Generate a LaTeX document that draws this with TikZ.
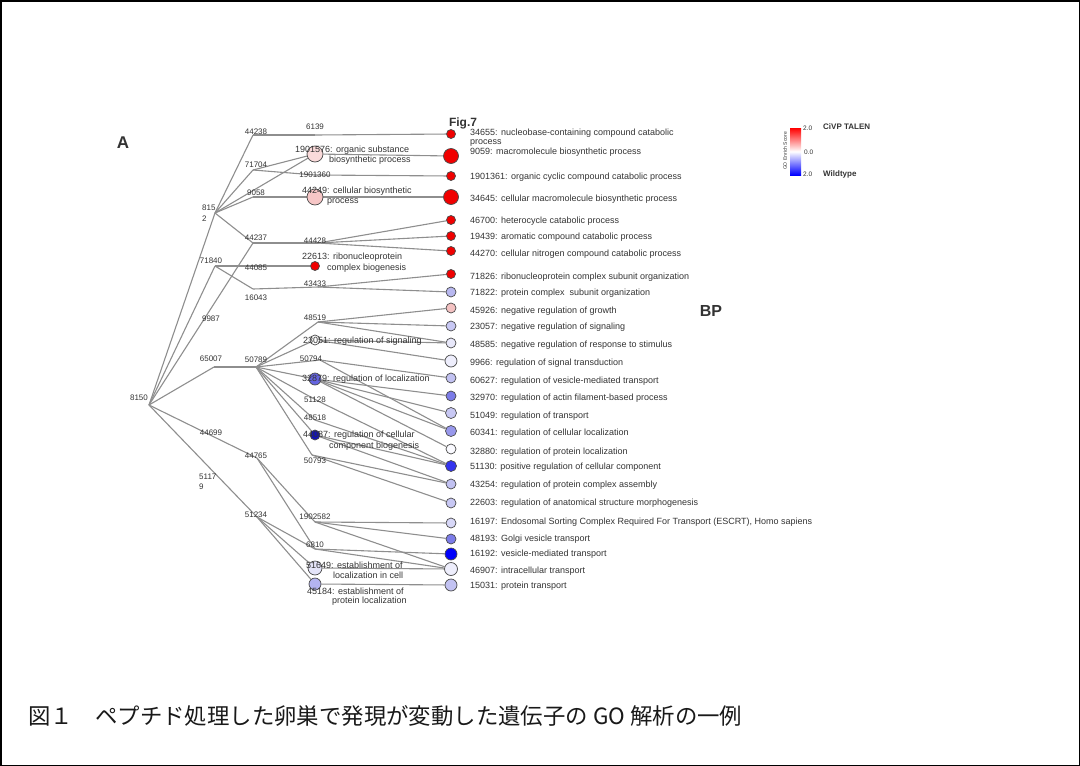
\documentclass[tikz,border=0pt]{standalone}
\usepackage{fontspec}
\usetikzlibrary{backgrounds}
\setmainfont{Liberation Sans}
\newfontfamily\cjk{Noto Sans CJK JP}
\definecolor{edgegray}{HTML}{8E8E8E}
\definecolor{txt}{HTML}{333333}
\definecolor{rim}{HTML}{4A4A4A}
\definecolor{cRed}{HTML}{F00000}
\definecolor{cPink1}{HTML}{FADADA}
\definecolor{cPink2}{HTML}{F6C6C6}
\definecolor{cPink3}{HTML}{F4C2C2}
\definecolor{cLav}{HTML}{B8B8F0}
\definecolor{cLav2}{HTML}{C8C8F4}
\definecolor{cLav3}{HTML}{C2C2F2}
\definecolor{cPale}{HTML}{E8E8FA}
\definecolor{cPale2}{HTML}{EEEEFC}
\definecolor{cWhite}{HTML}{FAFAFF}
\definecolor{cMid}{HTML}{7C7CE8}
\definecolor{cMid2}{HTML}{9898EC}
\definecolor{cMid3}{HTML}{6464E0}
\definecolor{cStrong}{HTML}{3434EE}
\definecolor{cBlue}{HTML}{0000FA}
\definecolor{cNavy}{HTML}{1414B4}
\definecolor{cPale3}{HTML}{D8D8F8}
\definecolor{cPale4}{HTML}{E4E4F8}
\definecolor{cLav4}{HTML}{B4B4F0}
\begin{document}
\begin{tikzpicture}[x=1pt,y=-1pt,
  edge/.style={draw=edgegray, line width=1.1pt},
  gonode/.style 2 args={circle, draw=rim, line width=0.7pt, fill=#1, minimum size=#2, inner sep=0pt},
  lbl/.style={font=\fontsize{9}{10}\selectfont, text=txt, inner sep=0pt, anchor=west},
  num/.style={font=\fontsize{8}{9}\selectfont, text=txt, inner sep=0pt},
  headline/.style={font=\bfseries, text=txt, inner sep=0pt}]
\useasboundingbox (0,0) rectangle (1080,766);
\draw[line width=1.5pt] (0.75,0.75) rectangle (1079.25,765.25);

% ---- edge points ----
\coordinate (r8150) at (149,405);
\coordinate (a8152) at (215,213);
\coordinate (a71840) at (215,266);
\coordinate (a65007) at (214,367);
\coordinate (b44238) at (253,135);
\coordinate (b71704) at (253,170);
\coordinate (b9058) at (253,197);
\coordinate (b44237) at (253,243);
\coordinate (b44085) at (253,266);
\coordinate (b16043) at (253,289);
\coordinate (b50789) at (256,367);
\coordinate (b44765) at (257,458);
\coordinate (b51234) at (257,517);
\coordinate (m6139) at (315,135);
\coordinate (m1901360) at (315,175);
\coordinate (m44428) at (318,243);
\coordinate (m43433) at (318,287);
\coordinate (m48519) at (318,322);
\coordinate (m50794) at (320,360);
\coordinate (m51128) at (318,401);
\coordinate (m48518) at (315,420);
\coordinate (m50793) at (312,455);
\coordinate (m1902582) at (315,522);
\coordinate (m6810) at (315,549);

% ---- circles (middle column) ----
\node[gonode={cPink1}{16pt}] (m1901576) at (315,154) {};
\node[gonode={cPink2}{16pt}] (m44249) at (315,197) {};
\node[gonode={cRed}{9pt}] (m22613) at (315,266) {};
\node[gonode={white}{10pt}] (m23051) at (315,340) {};
\node[gonode={cMid3}{12pt}] (m32879) at (315,379) {};
\node[gonode={cNavy}{10pt}] (m44087) at (315,435) {};
\node[gonode={cPale4}{14pt}] (m51649) at (315,568) {};
\node[gonode={cLav4}{12pt}] (m45184) at (315,584) {};

% ---- leaves ----
\node[gonode={cRed}{9pt}] (l34655) at (451,134) {};
\node[gonode={cRed}{15pt}] (l9059) at (451,156) {};
\node[gonode={cRed}{9pt}] (l1901361) at (451,176) {};
\node[gonode={cRed}{15pt}] (l34645) at (451,197) {};
\node[gonode={cRed}{9pt}] (l46700) at (451,220) {};
\node[gonode={cRed}{9pt}] (l19439) at (451,236) {};
\node[gonode={cRed}{9pt}] (l44270) at (451,251) {};
\node[gonode={cRed}{9pt}] (l71826) at (451,274) {};
\node[gonode={cLav}{10pt}] (l71822) at (451,292) {};
\node[gonode={cPink3}{10pt}] (l45926) at (451,308) {};
\node[gonode={cLav2}{10pt}] (l23057) at (451,326) {};
\node[gonode={cPale}{10pt}] (l48585) at (451,343) {};
\node[gonode={cPale2}{12pt}] (l9966) at (451,361) {};
\node[gonode={cLav3}{10pt}] (l60627) at (451,378) {};
\node[gonode={cMid}{10pt}] (l32970) at (451,396) {};
\node[gonode={cLav2}{11pt}] (l51049) at (451,413) {};
\node[gonode={cMid2}{11pt}] (l60341) at (451,431) {};
\node[gonode={cWhite}{10pt}] (l32880) at (451,449) {};
\node[gonode={cStrong}{11pt}] (l51130) at (451,466) {};
\node[gonode={cLav3}{10pt}] (l43254) at (451,484) {};
\node[gonode={cLav2}{10pt}] (l22603) at (451,503) {};
\node[gonode={cPale3}{10pt}] (l16197) at (451,523) {};
\node[gonode={cMid}{10pt}] (l48193) at (451,539) {};
\node[gonode={cBlue}{12pt}] (l16192) at (451,554) {};
\node[gonode={cPale2}{13pt}] (l46907) at (451,569) {};
\node[gonode={cLav3}{12pt}] (l15031) at (451,585) {};

% ---- edges (behind the circles) ----
\begin{scope}[on background layer]
\foreach \a/\b in {r8150/a8152, r8150/a71840, r8150/b44237, r8150/a65007, r8150/b44765, r8150/b51234,
  a8152/b44238, a8152/b71704, a8152/b9058, a8152/b44237, a8152/m1901576,
  b44238/m6139, m6139/l34655,
  b71704/m1901576, b71704/m1901360, m1901360/l1901361,
  b9058/m44249, m1901576/l9059, m44249/l34645,
  b44237/m44428, m44428/l46700, m44428/l19439, m44428/l44270,
  a71840/b44085, b44085/m22613, a71840/b16043, b16043/m43433, m43433/l71826, m43433/l71822,
  a65007/b50789,
  b50789/m48519, b50789/m23051, b50789/m50794, b50789/m32879, b50789/m51128, b50789/m48518, b50789/m44087, b50789/m50793,
  m48519/l45926, m48519/l23057, m48519/l48585,
  m23051/l48585, m23051/l9966,
  m50794/l60627, m50794/l60341,
  m32879/l32970, m32879/l51049, m32879/l60341, m32879/l32880,
  m51128/l51130, m48518/l51130, m44087/l51130, m44087/l43254,
  m50793/l43254, m50793/l22603,
  b44765/m1902582, b44765/m6810,
  b51234/m6810, b51234/m51649, b51234/m45184,
  m1902582/l16197, m1902582/l48193, m1902582/l46907,
  m6810/l16192, m6810/l46907,
  m51649/l46907, m45184/l15031}
  \draw[edge] (\a) -- (\b);
\end{scope}

% ---- number labels ----
\node[num] (t8150) at (139,398) {8150};
\node[num, anchor=west] (t8152a) at (202,208) {815};
\node[num, anchor=west] (t8152b) at (202,219) {2};
\node[num] (t71840) at (211,261) {71840};
\node[num] (t9987) at (211,319) {9987};
\node[num] (t65007) at (211,359) {65007};
\node[num] (t44699) at (211,433) {44699};
\node[num, anchor=west] (t51179a) at (199,477) {5117};
\node[num, anchor=west] (t51179b) at (199,487) {9};
\node[num] (t44238) at (256,132) {44238};
\node[num] (t71704) at (256,165) {71704};
\node[num] (t9058) at (256,193) {9058};
\node[num] (t44237) at (256,238) {44237};
\node[num] (t44085) at (256,268) {44085};
\node[num] (t16043) at (256,298) {16043};
\node[num] (t50789) at (256,360) {50789};
\node[num] (t44765) at (256,456) {44765};
\node[num] (t51234) at (256,515) {51234};
\node[num] (t6139) at (315,127) {6139};
\node[num] (t1901360) at (315,175) {1901360};
\node[num] (t44428) at (315,241) {44428};
\node[num] (t43433) at (315,284) {43433};
\node[num] (t48519) at (315,318) {48519};
\node[num] (t50794) at (311,359) {50794};
\node[num] (t51128) at (315,400) {51128};
\node[num] (t48518) at (315,418) {48518};
\node[num] (t50793) at (315,461) {50793};
\node[num] (t1902582) at (315,517) {1902582};
\node[num] (t6810) at (315,545) {6810};

% ---- middle labels ----
\node[lbl] (u1901576a) at (295,150) {1901576: organic substance};
\node[lbl] (u1901576b) at (329,160) {biosynthetic process};
\node[lbl] (u44249a) at (302,191) {44249: cellular biosynthetic};
\node[lbl] (u44249b) at (327,202) {process};
\node[lbl] (u22613a) at (302,257) {22613: ribonucleoprotein};
\node[lbl] (u22613b) at (327,268) {complex biogenesis};
\node[lbl] (u23051) at (303,341) {23051: regulation of signaling};
\node[lbl] (u32879) at (302,379) {32879: regulation of localization};
\node[lbl] (u44087a) at (303,435) {44087: regulation of cellular};
\node[lbl] (u44087b) at (329,446) {component biogenesis};
\node[lbl] (u51649a) at (306,565) {51649: establishment of};
\node[lbl] (u51649b) at (333,575) {localization in cell};
\node[lbl] (u45184a) at (307,591) {45184: establishment of};
\node[lbl] (u45184b) at (332,601) {protein localization};

% ---- leaf labels ----
\node[lbl] (v34655a) at (470,133) {34655: nucleobase-containing compound catabolic};
\node[lbl] (v34655b) at (470,143) {process};
\node[lbl] (v9059) at (470,152) {9059: macromolecule biosynthetic process};
\node[lbl] (v1901361) at (470,177) {1901361: organic cyclic compound catabolic process};
\node[lbl] (v34645) at (470,199) {34645: cellular macromolecule biosynthetic process};
\node[lbl] (v46700) at (470,221) {46700: heterocycle catabolic process};
\node[lbl] (v19439) at (470,237) {19439: aromatic compound catabolic process};
\node[lbl] (v44270) at (470,254) {44270: cellular nitrogen compound catabolic process};
\node[lbl] (v71826) at (470,277) {71826: ribonucleoprotein complex subunit organization};
\node[lbl] (v71822) at (470,293) {71822: protein complex\ \ subunit organization};
\node[lbl] (v45926) at (470,311) {45926: negative regulation of growth};
\node[lbl] (v23057) at (470,327) {23057: negative regulation of signaling};
\node[lbl] (v48585) at (470,345) {48585: negative regulation of response to stimulus};
\node[lbl] (v9966) at (470,363) {9966: regulation of signal transduction};
\node[lbl] (v60627) at (470,381) {60627: regulation of vesicle-mediated transport};
\node[lbl] (v32970) at (470,398) {32970: regulation of actin filament-based process};
\node[lbl] (v51049) at (470,416) {51049: regulation of transport};
\node[lbl] (v60341) at (470,433) {60341: regulation of cellular localization};
\node[lbl] (v32880) at (470,452) {32880: regulation of protein localization};
\node[lbl] (v51130) at (470,467) {51130: positive regulation of cellular component};
\node[lbl] (v43254) at (470,485) {43254: regulation of protein complex assembly};
\node[lbl] (v22603) at (470,503) {22603: regulation of anatomical structure morphogenesis};
\node[lbl] (v16197) at (470,522) {16197: Endosomal Sorting Complex Required For Transport (ESCRT), Homo sapiens};
\node[lbl] (v48193) at (470,539) {48193: Golgi vesicle transport};
\node[lbl] (v16192) at (470,554) {16192: vesicle-mediated transport};
\node[lbl] (v46907) at (470,571) {46907: intracellular transport};
\node[lbl] (v15031) at (470,586) {15031: protein transport};

% ---- headings ----
\node[headline, font=\bfseries\fontsize{12}{14}\selectfont] (fig) at (463,123) {Fig.7};
\node[headline, font=\bfseries\fontsize{17}{19}\selectfont] (hA) at (123,143) {A};
\node[headline, font=\bfseries\fontsize{16}{18}\selectfont] (hBP) at (711,311) {BP};

% ---- legend ----
\shade[top color=red, bottom color=blue, middle color=white] (790,128) rectangle (801,175);
\node[rotate=90, font=\fontsize{5}{6}\selectfont, text=txt, inner sep=0pt] (legt) at (785,151) {GO Enrich Score};
\node[num, anchor=west, font=\fontsize{6.5}{7}\selectfont] (lt1) at (803,128) {2.0};
\node[num, anchor=west, font=\fontsize{6.5}{7}\selectfont] (lt2) at (804,152) {0.0};
\node[num, anchor=west, font=\fontsize{6.5}{7}\selectfont] (lt3) at (803,174) {2.0};
\node[headline, anchor=west, font=\bfseries\fontsize{8}{9}\selectfont] (lg1) at (823,127) {CiVP TALEN};
\node[headline, anchor=west, font=\bfseries\fontsize{8}{9}\selectfont] (lg2) at (823,174) {Wildtype};

% ---- caption ----
\node[anchor=west, inner sep=0pt, text=black!90, font=\cjk\fontsize{22.4}{26}\selectfont] (cap) at (28,716) {図１　ペプチド処理した卵巣で発現が変動した遺伝子の GO 解析の一例};
\end{tikzpicture}
\end{document}
